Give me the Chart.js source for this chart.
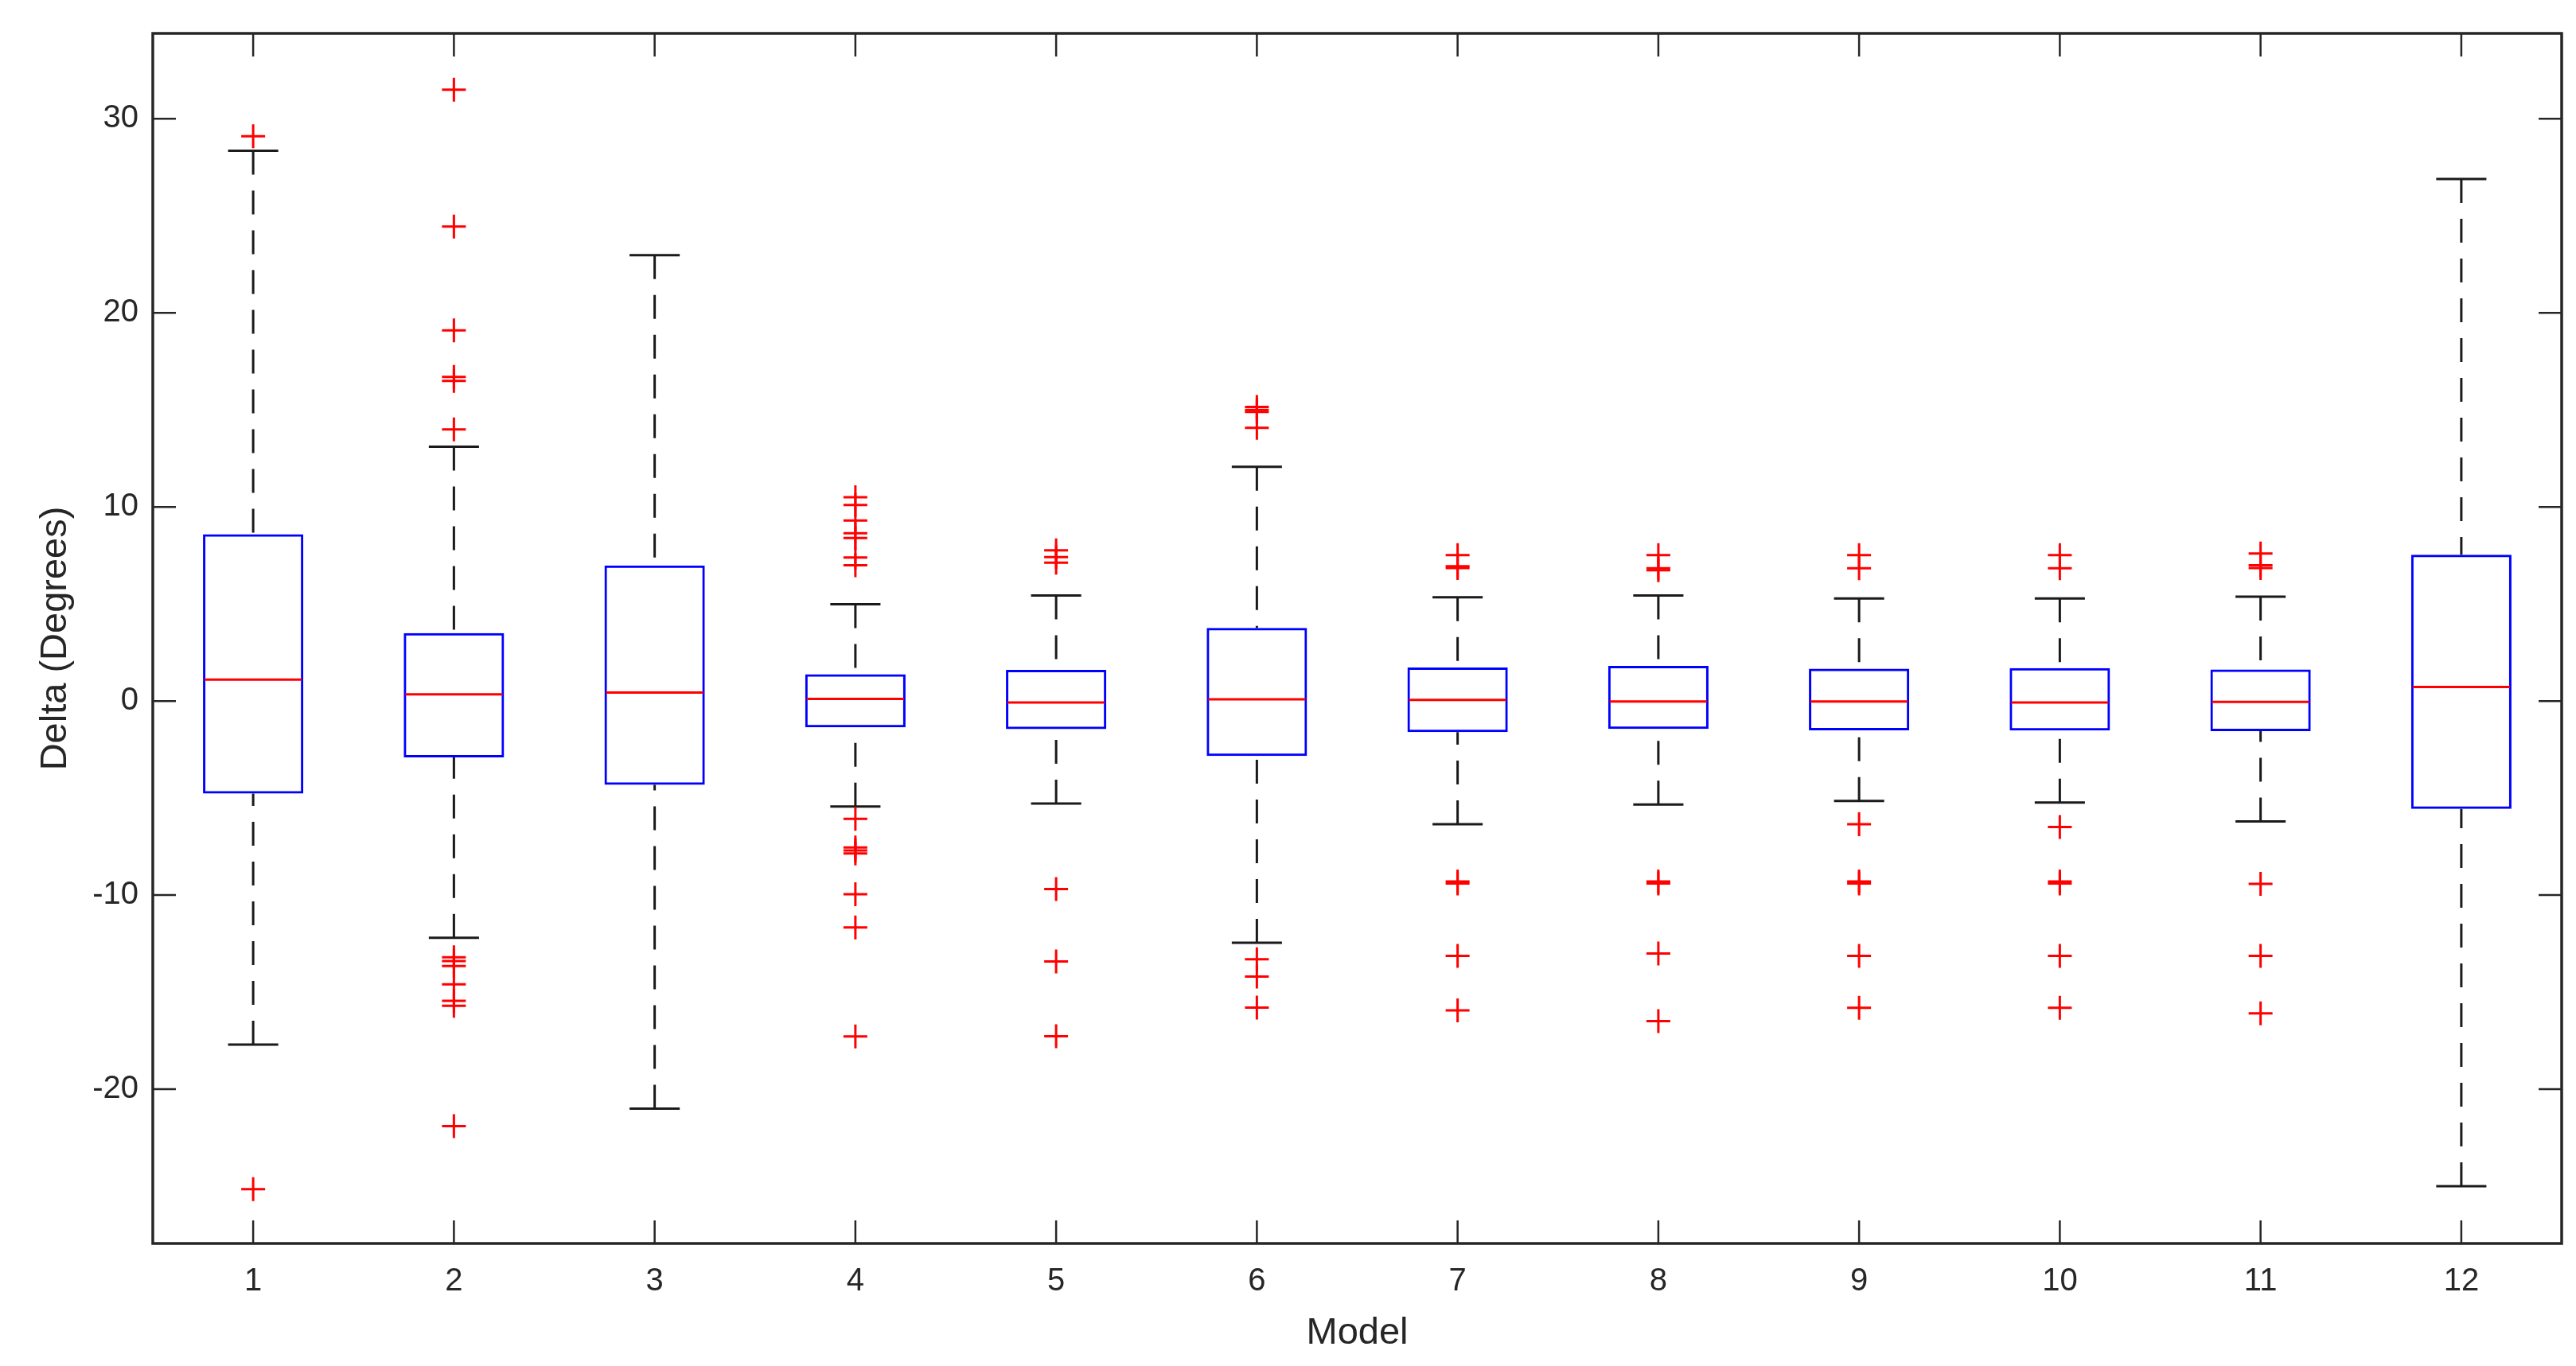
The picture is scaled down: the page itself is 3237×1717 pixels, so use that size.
<!DOCTYPE html>
<html>
<head>
<meta charset="utf-8">
<script src="https://cdn.jsdelivr.net/npm/chart.js@4/dist/chart.umd.min.js"></script>
<style>
  html, body { margin: 0; padding: 0; background: #fff; }
  #wrap { width: 3237px; height: 1717px; }
</style>
</head>
<body>
<div id="wrap"><canvas id="boxChart" width="3237" height="1717"></canvas></div>
<script>
// values (degrees)
var models = ["1", "2", "3", "4", "5", "6", "7", "8", "9", "10", "11", "12"];
var q1 = [-4.77, -2.9, -4.32, -1.36, -1.45, -2.83, -1.6, -1.44, -1.51, -1.52, -1.55, -5.56];
var median = [1.1, 0.35, 0.44, 0.11, -0.07, 0.09, 0.06, -0.02, -0.02, -0.07, -0.04, 0.72];
var q3 = [8.6, 3.5, 6.99, 1.38, 1.61, 3.77, 1.73, 1.81, 1.67, 1.7, 1.63, 7.54];
var whiskerLow = [-17.7, -12.2, -21.0, -5.43, -5.28, -12.45, -6.35, -5.33, -5.15, -5.23, -6.2, -25.0];
var whiskerHigh = [28.35, 13.1, 22.97, 4.99, 5.44, 12.07, 5.35, 5.44, 5.29, 5.29, 5.38, 26.9];
var outliers = [
  [29.1, -25.15],
  [31.5, 24.45, 19.1, 16.7, 16.5, 14.0, -13.2, -13.4, -13.65, -14.6, -15.45, -15.7, -21.9],
  [],
  [10.5, 10.1, 9.3, 8.65, 8.4, 7.4, 7.0, -6.07, -7.55, -7.7, -7.85, -9.95, -11.67, -17.28],
  [7.77, 7.42, 7.13, -9.69, -13.42, -17.27],
  [15.15, 15.0, 14.9, 14.08, -13.31, -14.2, -15.8],
  [7.52, 6.95, 6.85, -9.3, -9.4, -13.13, -15.94],
  [7.52, 6.84, 6.74, -9.3, -9.4, -13.01, -16.49],
  [7.52, 6.84, -6.35, -9.3, -9.4, -13.13, -15.81],
  [7.52, 6.84, -6.49, -9.3, -9.4, -13.13, -15.81],
  [7.6, 7.0, 6.85, -9.42, -13.13, -16.09],
  []
];
var yTicks = [-20, -10, 0, 10, 20, 30];
var yMin = -27.95;
var yMax = 34.4;

var axisColor = "#262626";

// flatten outliers into points for the scatter-like dataset
var outlierPoints = [];
outliers.forEach(function(list, i) {
  list.forEach(function(v) {
    outlierPoints.push({ x: models[i], y: v });
  });
});

// whiskers, caps, medians and the MATLAB style frame with inward ticks
var boxplotExtras = {
  id: "boxplotExtras",
  beforeDatasetsDraw: function(chart) {
    var ctx = chart.ctx;
    var xs = chart.scales.x;
    var ys = chart.scales.y;
    var bars = chart.getDatasetMeta(0).data;
    ctx.save();
    ctx.strokeStyle = "#1a1a1a";
    ctx.lineWidth = 3;
    models.forEach(function(m, i) {
      var x = xs.getPixelForValue(i);
      var capHalf = bars[i].width / 4;
      var yHi = ys.getPixelForValue(whiskerHigh[i]);
      var yLo = ys.getPixelForValue(whiskerLow[i]);
      // dashed stems, starting at the caps
      ctx.setLineDash([30, 20]);
      ctx.beginPath();
      ctx.moveTo(x, yHi);
      ctx.lineTo(x, ys.getPixelForValue(q3[i]));
      ctx.moveTo(x, yLo);
      ctx.lineTo(x, ys.getPixelForValue(q1[i]));
      ctx.stroke();
      // caps
      ctx.setLineDash([]);
      ctx.beginPath();
      ctx.moveTo(x - capHalf, yHi);
      ctx.lineTo(x + capHalf, yHi);
      ctx.moveTo(x - capHalf, yLo);
      ctx.lineTo(x + capHalf, yLo);
      ctx.stroke();
    });
    ctx.restore();
  },
  afterDatasetsDraw: function(chart) {
    var ctx = chart.ctx;
    var xs = chart.scales.x;
    var ys = chart.scales.y;
    var area = chart.chartArea;
    var bars = chart.getDatasetMeta(0).data;
    ctx.save();
    // medians
    ctx.strokeStyle = "#ff0000";
    ctx.lineWidth = 3;
    models.forEach(function(m, i) {
      var half = bars[i].width / 2 - 2;
      var x = xs.getPixelForValue(i);
      var y = ys.getPixelForValue(median[i]);
      ctx.beginPath();
      ctx.moveTo(x - half, y);
      ctx.lineTo(x + half, y);
      ctx.stroke();
    });
    // frame
    ctx.strokeStyle = axisColor;
    ctx.lineWidth = 3.5;
    ctx.strokeRect(area.left, area.top, area.right - area.left, area.bottom - area.top);
    // ticks pointing inward on all four sides
    var tl = 29;
    ctx.lineWidth = 2.5;
    ctx.beginPath();
    ys.ticks.forEach(function(t) {
      var y = ys.getPixelForValue(t.value);
      ctx.moveTo(area.left, y);
      ctx.lineTo(area.left + tl, y);
      ctx.moveTo(area.right, y);
      ctx.lineTo(area.right - tl, y);
    });
    models.forEach(function(m, i) {
      var x = xs.getPixelForValue(i);
      ctx.moveTo(x, area.bottom);
      ctx.lineTo(x, area.bottom - tl);
      ctx.moveTo(x, area.top);
      ctx.lineTo(x, area.top + tl);
    });
    ctx.stroke();
    ctx.restore();
  }
};

var ctx = document.getElementById("boxChart").getContext("2d");
var boxChart = new Chart(ctx, {
  type: "bar",
  data: {
    labels: models,
    datasets: [
      {
        // interquartile boxes as floating bars
        data: models.map(function(m, i) { return [q1[i], q3[i]]; }),
        backgroundColor: "rgba(0,0,0,0)",
        borderColor: "#0000ff",
        borderWidth: 3,
        borderSkipped: false,
        barPercentage: 0.5,
        categoryPercentage: 1.0
      },
      {
        type: "line",
        data: outlierPoints,
        showLine: false,
        pointStyle: "cross",
        pointRadius: 15,
        pointBorderWidth: 3,
        pointBorderColor: "#ff0000",
        pointBackgroundColor: "#ff0000"
      }
    ]
  },
  options: {
    responsive: false,
    animation: false,
    devicePixelRatio: 1,
    layout: { padding: { top: 41, right: 17, left: 0, bottom: 0 } },
    plugins: {
      legend: { display: false },
      tooltip: { enabled: false }
    },
    scales: {
      x: {
        type: "category",
        offset: true,
        grid: { display: false, drawTicks: false },
        border: { display: false },
        ticks: {
          color: axisColor,
          padding: 24,
          font: { family: "'Liberation Sans', Arial, sans-serif", size: 40 }
        },
        title: {
          display: true,
          text: "Model",
          color: axisColor,
          padding: { top: 0, bottom: 13 },
          font: { family: "'Liberation Sans', Arial, sans-serif", size: 47 }
        },
        afterFit: function(scale) { scale.height = 154; }
      },
      y: {
        min: yMin,
        max: yMax,
        grid: { display: false, drawTicks: false },
        border: { display: false },
        ticks: {
          color: axisColor,
          padding: 18,
          font: { family: "'Liberation Sans', Arial, sans-serif", size: 40 }
        },
        afterBuildTicks: function(scale) {
          scale.ticks = yTicks.map(function(v) { return { value: v }; });
        },
        title: {
          display: true,
          text: "Delta (Degrees)",
          color: axisColor,
          padding: { top: 42, bottom: 0 },
          font: { family: "'Liberation Sans', Arial, sans-serif", size: 47 }
        },
        afterFit: function(scale) { scale.width = 192; }
      }
    }
  },
  plugins: [boxplotExtras]
});
</script>
</body>
</html>
